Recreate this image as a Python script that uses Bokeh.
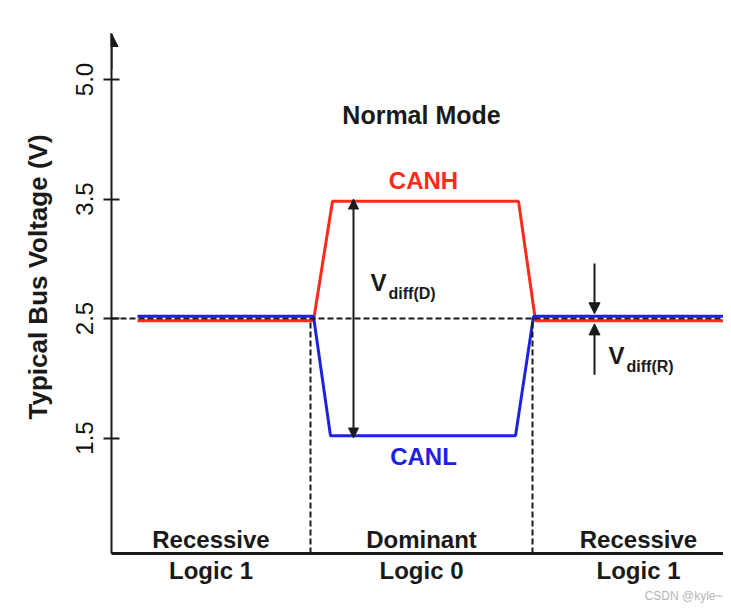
from bokeh.plotting import figure
from bokeh.models import ColumnDataSource, Arrow, NormalHead, FixedTicker, Range1d
from bokeh.core.properties import value
from bokeh.transform import dodge
from bokeh.embed import file_html
from bokeh.resources import INLINE

# ---------------- data (schematic time units / volts) ----------------
t_canh = [2.6, 20.2, 22.1, 40.7, 42.4, 62.5]
v_canh = [2.5, 2.5, 3.5, 3.5, 2.5, 2.5]
t_canl = [2.6, 20.2, 21.9, 40.4, 42.2, 62.5]
v_canl = [2.5, 2.5, 1.5, 1.5, 2.5, 2.5]
v_recessive = 2.5
bit_edges = [0.0, 19.9, 42.1, 63.3]
bus_states = ["Recessive", "Dominant", "Recessive"]
logic_levels = ["Logic 1", "Logic 0", "Logic 1"]
tick_positions = [1.5, 2.5, 3.5, 4.5]
tick_labels = ["1.5", "2.5", "3.5", "5.0"]

# ---------------- layout constants ----------------
FONT = value("Liberation Sans")
RED = "#ff2a1a"
BLUE = "#1c22e0"
INK = "#1a1a1a"
axis_floor = 0.5335
axis_top = 4.885
vdiff_d_t = 24.2
vdiff_r_t = 48.3

p = figure(width=723, height=603, output_backend="svg", toolbar_location=None,
           x_range=Range1d(0, 61.2), y_range=Range1d(axis_floor, 5.1611),
           min_border_left=111, min_border_right=0,
           min_border_top=0, min_border_bottom=50,
           title="CSDN @kyle~", title_location="below")
p.outline_line_color = None
p.xgrid.visible = False
p.ygrid.visible = False
p.background_fill_color = "white"

p.title.align = "right"
p.title.text_font = "Liberation Sans"
p.title.text_font_size = "12px"
p.title.text_font_style = "normal"
p.title.text_color = "#b5b5b5"
p.title.standoff = 0
p.title.offset = 1

mids = [(a + b) / 2 for a, b in zip(bit_edges[:-1], bit_edges[1:])]

# y axis
ax = p.yaxis[0]
ax.ticker = FixedTicker(ticks=tick_positions)
ax.major_label_overrides = {k: v for k, v in zip(tick_positions, tick_labels)}
ax.bounds = (axis_floor, axis_top)
ax.minor_tick_line_color = None
ax.major_tick_in = 8
ax.major_tick_out = 8
ax.major_tick_line_width = 2
ax.major_tick_line_color = INK
ax.axis_line_width = 2
ax.axis_line_color = INK
ax.major_label_orientation = "vertical"
ax.major_label_text_font = "Liberation Sans"
ax.major_label_text_font_size = "24px"
ax.major_label_text_color = "#111111"
ax.major_label_standoff = 10
ax.axis_label = "Typical Bus Voltage (V)"
ax.axis_label_text_font = "Liberation Sans"
ax.axis_label_text_font_style = "bold"
ax.axis_label_text_font_size = "26px"
ax.axis_label_text_color = INK
ax.axis_label_standoff = 21

# x (time) axis, labelled with the logic level of each bit
bx = p.xaxis[0]
bx.ticker = FixedTicker(ticks=mids)
bx.major_label_overrides = {k: v for k, v in zip(mids, logic_levels)}
bx.minor_tick_line_color = None
bx.major_tick_line_color = None
bx.major_tick_in = 0
bx.major_tick_out = 0
bx.axis_line_width = 3
bx.axis_line_color = INK
bx.major_label_text_font = "Liberation Sans"
bx.major_label_text_font_style = "bold"
bx.major_label_text_font_size = "24px"
bx.major_label_text_color = INK
bx.major_label_standoff = 3

# y-axis arrow head
p.add_layout(Arrow(end=NormalHead(size=13, fill_color=INK, line_color=INK),
                   x_start=0, y_start=axis_top - 0.3, x_end=0, y_end=axis_top,
                   line_color=INK, line_width=2))

# bus signals
src_h = ColumnDataSource(dict(t=t_canh, v=v_canh))
src_l = ColumnDataSource(dict(t=t_canl, v=v_canl))
p.line(x="t", y=dodge("v", -0.018, range=p.y_range), source=src_h, line_color=RED, line_width=3)
p.line(x="t", y=dodge("v", 0.018, range=p.y_range), source=src_l, line_color=BLUE, line_width=3)

# reference dashed lines
p.segment(x0=[bit_edges[0]], y0=[v_recessive], x1=[bit_edges[-1]], y1=[v_recessive],
          line_color=INK, line_width=2, line_dash="6 3")
p.segment(x0=bit_edges[1:3], y0=[axis_floor] * 2, x1=bit_edges[1:3], y1=[v_recessive] * 2,
          line_color=INK, line_width=2, line_dash="6 3")

# Vdiff(D) double arrow
p.add_layout(Arrow(start=NormalHead(size=10, fill_color=INK, line_color=INK),
                   end=NormalHead(size=10, fill_color=INK, line_color=INK),
                   x_start=vdiff_d_t, y_start=min(v_canl), x_end=vdiff_d_t, y_end=max(v_canh),
                   line_color=INK, line_width=2))
# Vdiff(R) arrows
p.add_layout(Arrow(end=NormalHead(size=11, fill_color=INK, line_color=INK),
                   x_start=vdiff_r_t, y_start=v_recessive + 0.46, x_end=vdiff_r_t, y_end=v_recessive + 0.04,
                   line_color=INK, line_width=2))
p.add_layout(Arrow(end=NormalHead(size=11, fill_color=INK, line_color=INK),
                   x_start=vdiff_r_t, y_start=v_recessive - 0.47, x_end=vdiff_r_t, y_end=v_recessive - 0.045,
                   line_color=INK, line_width=2))

# bus state labels
lab_src = ColumnDataSource(dict(x=mids, y=[axis_floor] * 3, s=bus_states))
p.text(x="x", y="y", text="s", source=lab_src, text_font=FONT, text_font_style="bold",
       text_font_size="24px", text_align="center", text_baseline="alphabetic",
       y_offset=-14, text_color=INK)

dom_mid = mids[1]
p.text(x=[dom_mid], y=[4.13], text=["Normal Mode"], text_font=FONT, text_font_style="bold",
       text_font_size="25px", text_align="center", text_baseline="alphabetic",
       y_offset=-9, text_color=INK)
p.text(x=[dom_mid + 0.2], y=[max(v_canh)], text=["CANH"], text_font=FONT, text_font_style="bold",
       text_font_size="24px", text_align="center", text_baseline="alphabetic",
       y_offset=-19, text_color=RED)
p.text(x=[dom_mid + 0.2], y=[min(v_canl)], text=["CANL"], text_font=FONT, text_font_style="bold",
       text_font_size="24px", text_align="center", text_baseline="alphabetic",
       y_offset=18, text_color=BLUE)

# V_diff labels
for t, dx, dy, sub in [(vdiff_d_t, 17, -26, "diff(D)"), (vdiff_r_t, 14, 47, "diff(R)")]:
    p.text(x=[t], y=[v_recessive], text=["V"], text_font=FONT, text_font_style="bold",
           text_font_size="24px", text_align="left", text_baseline="alphabetic",
           x_offset=dx, y_offset=dy - 10, text_color=INK)
    p.text(x=[t], y=[v_recessive], text=[sub], text_font=FONT, text_font_style="bold",
           text_font_size="16px", text_align="left", text_baseline="alphabetic",
           x_offset=dx + 18, y_offset=dy + 1, text_color=INK)

open("out.html", "w").write(file_html(p, INLINE))
